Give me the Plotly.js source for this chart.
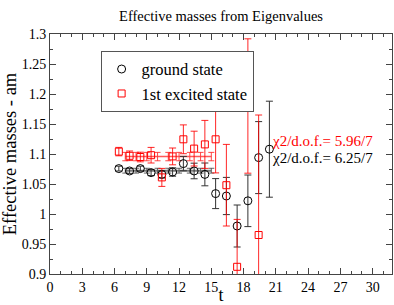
<!DOCTYPE html>
<html>
<head>
<meta charset="utf-8">
<script src="https://cdn.plot.ly/plotly-3.0.1.min.js"></script>
<style>html,body{margin:0;padding:0;background:#fff;}#chart{width:394px;height:305px;}</style>
</head>
<body>
<div id="chart"></div>
<script>
// Data
const tGround = [6.4, 7.4, 8.4, 9.4, 10.4, 11.4, 12.4, 13.4, 14.4, 15.4, 16.4, 17.4, 18.4, 19.4, 20.4];
const mGround = [1.0757, 1.0717, 1.0757, 1.069, 1.066, 1.070, 1.084, 1.0717, 1.066, 1.034, 1.030, 0.980, 1.022, 1.094, 1.108];
const eGround = [0.004, 0.004, 0.004, 0.005, 0.006, 0.007, 0.012, 0.013, 0.019, 0.025, 0.031, 0.035, 0.043, 0.060, 0.080];

const tExcited = [6.4, 7.4, 8.4, 9.4, 10.4, 11.4, 12.4, 13.4, 14.4, 15.4, 16.4, 17.4, 18.4, 19.4];
const mExcited = [1.104, 1.097, 1.095, 1.098, 1.061, 1.096, 1.1245, 1.109, 1.116, 1.1245, 1.048, 0.912, 1.180, 0.965];
const eExcited = [0.007, 0.008, 0.008, 0.013, 0.015, 0.014, 0.024, 0.029, 0.040, 0.056, 0.068, 0.079, 0.112, 0.200];

const tFit = [7, 8, 9, 10, 11, 12, 13, 14, 15];
const fitGround = [1.0722, 1.0722, 1.0722, 1.0722, 1.0722, 1.0722, 1.0722, 1.0722, 1.0722];
const fitGroundErr = [0.004, 0.004, 0.004, 0.004, 0.004, 0.004, 0.004, 0.004, 0.004];
const fitExcited = [1.0957, 1.0957, 1.0957, 1.0957, 1.0957, 1.0957, 1.0957, 1.0957, 1.0957];
const fitExcitedErr = [0.007, 0.007, 0.007, 0.007, 0.007, 0.007, 0.007, 0.007, 0.007];

const chiLabels = ["χ2/d.o.f.= 5.96/7", "χ2/d.o.f.= 6.25/7"];
const xTickVals = [0, 3, 6, 9, 12, 15, 18, 21, 24, 27, 30];
const yTickVals = [0.9, 0.95, 1, 1.05, 1.1, 1.15, 1.2, 1.25, 1.3];
const yTickText = ["0.9", "0.95", "1", "1.05", "1.1", "1.15", "1.2", "1.25", "1.3"];

const FONT = "Liberation Serif";

const traces = [
  {
    x: tFit, y: fitGround, type: 'scatter', mode: 'lines', showlegend: false,
    line: {color: 'rgba(90,90,90,0.8)', width: 2},
    error_y: {type: 'data', array: fitGroundErr, visible: true, color: 'rgba(60,60,60,0.8)', thickness: 1, width: 3}
  },
  {
    x: tFit, y: fitExcited, type: 'scatter', mode: 'lines', showlegend: false,
    line: {color: 'rgba(255,60,60,0.85)', width: 1.5},
    error_y: {type: 'data', array: fitExcitedErr, visible: true, color: 'rgba(255,40,40,0.85)', thickness: 1, width: 3}
  },
  {
    x: tGround, y: mGround, type: 'scatter', mode: 'markers', name: 'ground state',
    marker: {symbol: 'circle-open', size: 8, color: '#000', line: {width: 1, color: '#000'}},
    error_y: {type: 'data', array: eGround, visible: true, color: '#333', thickness: 1, width: 3.5}
  },
  {
    x: tExcited, y: mExcited, type: 'scatter', mode: 'markers', name: '1st excited state',
    marker: {symbol: 'square-open', size: 7, color: '#ff0000', line: {width: 1, color: '#ff0000'}},
    error_y: {type: 'data', array: eExcited, visible: true, color: 'rgba(255,0,0,0.85)', thickness: 1, width: 3.5}
  }
];

const axisCommon = {
  showline: true, linecolor: '#444', linewidth: 1, mirror: 'ticks',
  ticks: 'inside', ticklen: 6, tickcolor: '#444', tickwidth: 1,
  showgrid: false, zeroline: false, automargin: false,
  tickfont: {family: FONT, size: 14, color: '#000'}
};

const layout = {
  width: 394, height: 305,
  font: {family: FONT, color: '#000'},
  margin: {l: 50, r: 2, t: 34, b: 31, pad: 0},
  paper_bgcolor: '#fff', plot_bgcolor: '#fff',
  title: {text: 'Effective masses from Eigenvalues', font: {family: FONT, size: 14.5, color: '#000'},
          x: 0.561, xanchor: 'center', y: 0.948, yanchor: 'middle'},
  xaxis: Object.assign({}, axisCommon, {
    range: [0, 31.8], tickvals: xTickVals, ticktext: xTickVals.map(String),
    minor: {dtick: 1, tick0: 0, ticks: 'inside', ticklen: 3, tickcolor: '#444', showgrid: false},
    title: {text: 't', font: {family: FONT, size: 18, color: '#000'}, standoff: 10}
  }),
  yaxis: Object.assign({}, axisCommon, {
    range: [0.9, 1.3], tickvals: yTickVals, ticktext: yTickText,
    minor: {dtick: 0.025, tick0: 0.9, ticks: 'inside', ticklen: 3, tickcolor: '#444', showgrid: false},
    title: {text: 'Effective masses - am', font: {family: FONT, size: 18.5, color: '#000'}, standoff: 2}
  }),
  showlegend: true,
  legend: {
    x: 0.148, y: 0.93, xanchor: 'left', yanchor: 'top',
    bgcolor: '#fff', bordercolor: '#555', borderwidth: 1,
    font: {family: FONT, size: 16.5, color: '#000'},
    tracegroupgap: 0, itemwidth: 30
  },
  annotations: [
    {x: 20.45, y: 1.121, xref: 'x', yref: 'y', text: chiLabels[0], showarrow: false,
     xanchor: 'left', yanchor: 'middle', font: {family: FONT, size: 15, color: '#ff0000'}},
    {x: 20.45, y: 1.094, xref: 'x', yref: 'y', text: chiLabels[1], showarrow: false,
     xanchor: 'left', yanchor: 'middle', font: {family: FONT, size: 15, color: '#000'}}
  ]
};

Plotly.newPlot('chart', traces, layout, {displayModeBar: false, staticPlot: true});
</script>
</body>
</html>
